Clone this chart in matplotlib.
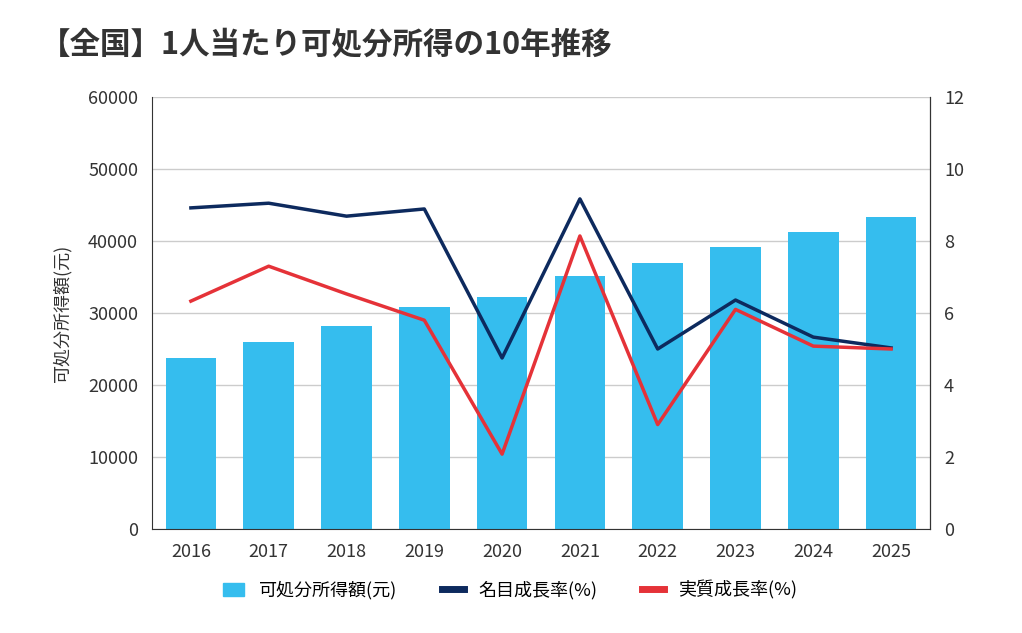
import matplotlib.pyplot as plt
from matplotlib.lines import Line2D
from matplotlib.patches import Patch

plt.rcParams['font.family'] = ['Noto Sans CJK JP', 'DejaVu Sans']

years = ['2016', '2017', '2018', '2019', '2020', '2021', '2022', '2023', '2024', '2025']
income = [23750, 26000, 28200, 30800, 32200, 35100, 36900, 39200, 41250, 43300]
nominal = [8.92, 9.05, 8.69, 8.89, 4.75, 9.17, 5.0, 6.36, 5.33, 5.03]
real = [6.33, 7.3, 6.53, 5.8, 2.08, 8.14, 2.9, 6.1, 5.08, 5.0]

W, H = 1022, 633
fig = plt.figure(figsize=(W / 100, H / 100), dpi=100)
ax = fig.add_axes([152 / W, 1 - 529 / H, (930 - 152) / W, (529 - 97) / H])
ax2 = ax.twinx()

x = range(len(years))
ax.bar(x, income, width=0.65, color='#35bdee', zorder=2)
ax2.plot(x, nominal, color='#0d2a5e', lw=2.5)
ax2.plot(x, real, color='#e53238', lw=2.5)

ax.set_xlim(-0.5, len(years) - 0.5)
ax.set_ylim(0, 60000)
ax.set_yticks(range(0, 60001, 10000))
ax2.set_ylim(0, 12)
ax2.set_yticks(range(0, 13, 2))
ax.set_xticks(list(x))
ax.set_xticklabels(years)
ax.grid(axis='y', color='#cccccc', lw=1, zorder=0)
ax.set_axisbelow(True)
for a in (ax, ax2):
    for s in ('top',):
        a.spines[s].set_visible(False)
    a.tick_params(length=0, labelsize=13, colors='#333333', pad=10)
ax.spines['left'].set_color('#333333')
ax2.spines['right'].set_color('#333333')
ax.spines['bottom'].set_color('#333333')
ax2.spines['left'].set_visible(False)
ax2.spines['bottom'].set_visible(False)
ax.set_ylabel('可処分所得額(元)', fontsize=13, color='#333333', labelpad=12)

fig.text(40 / W, 1 - 45 / H, '【全国】1人当たり可処分所得の10年推移', fontsize=22,
         fontweight='bold', color='#333333', va='center')

handles = [Patch(color='#35bdee', label='可処分所得額(元)'),
           Line2D([], [], color='#0d2a5e', lw=5, label='名目成長率(%)'),
           Line2D([], [], color='#e53238', lw=5, label='実質成長率(%)')]
fig.legend(handles=handles, loc='center', bbox_to_anchor=(510 / W, 1 - 590 / H), ncol=3,
           frameon=False, fontsize=13, handlelength=1.2, columnspacing=2.5)

fig.savefig('out.png', dpi=100)
